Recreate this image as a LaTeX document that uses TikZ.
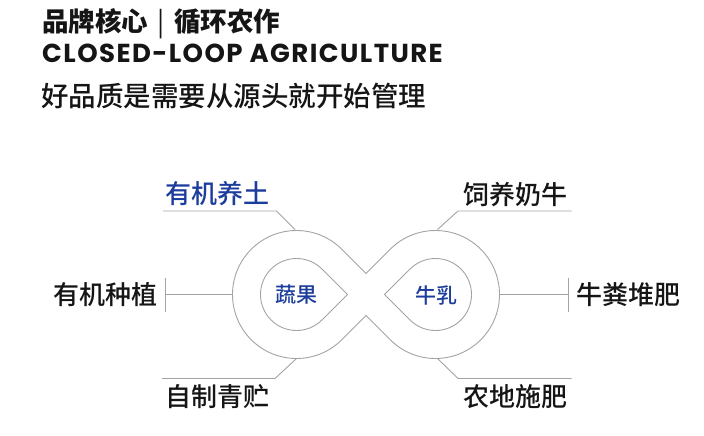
\documentclass[tikz,border=0pt]{standalone}
\usepackage{fontspec}
\setmainfont{Noto Sans CJK SC}
\newfontfamily\cjk{Noto Sans CJK SC}
\newfontfamily\cjkm{Noto Sans CJK SC Medium}
\newfontfamily\latn{Poppins}[LetterSpace=5.5]
\usetikzlibrary{calc}
\definecolor{lineg}{HTML}{A3A3A3}
\definecolor{brandblue}{HTML}{1C3D9B}
\definecolor{ink}{HTML}{151515}
\tikzset{
  leader/.style={draw=lineg, line width=0.9pt},
  loopline/.style={draw=lineg, line width=0.9pt, line join=miter},
  lbl/.style={inner sep=0pt, text=ink, font=\cjkm\fontsize{26}{26}\selectfont},
  bluelbl/.style={lbl, text=brandblue},
  innerlbl/.style={inner sep=0pt, text=brandblue, font=\cjkm\fontsize{21}{21}\selectfont},
}
\begin{document}
\begin{tikzpicture}[x=1pt,y=-1pt]
\useasboundingbox (0,0) rectangle (704,436);
% titles
\node[anchor=west, inner sep=0pt, text=ink, font=\cjk\bfseries\fontsize{26.5}{26.5}\selectfont] (title) at (42,24) {品牌核心\hspace{9pt}{\mdseries |}\hspace{10pt}循环农作};
\node[anchor=west, inner sep=0pt, text=ink, font=\latn\bfseries\fontsize{26}{26}\selectfont] (entitle) at (42,53) {CLOSED-LOOP AGRICULTURE};
\node[anchor=west, inner sep=0pt, text=ink, font=\cjkm\fontsize{27.5}{27.5}\selectfont] (sub) at (41,96) {好品质是需要从源头就开始管理};
% loop geometry
\coordinate (L) at (296.5,294.5);
\coordinate (R) at (435.5,294.5);
\coordinate (xt) at (366,273.5);
\coordinate (xb) at (366,315.5);
\draw[loopline] (xt) -- ($(L)+(-45:64)$) arc[start angle=-45, end angle=-315, radius=64]
  -- (xb) -- ($(R)+(135:64)$) arc[start angle=135, end angle=-135, radius=64] -- cycle;
\coordinate (Ltip) at (347.4,294.5);
\coordinate (Rtip) at (384.6,294.5);
\draw[loopline] (Ltip) -- ($(L)+(-45:36)$) arc[start angle=-45, end angle=-315, radius=36] -- cycle;
\draw[loopline] (Rtip) -- ($(R)+(-135:36)$) arc[start angle=-135, end angle=135, radius=36] -- cycle;
% inner labels
\node[innerlbl] (veg) at (296,295) {蔬果};
\node[innerlbl] (milk) at (436,295) {牛乳};
% outer labels
\node[bluelbl] (soil) at (217.5,194) {有机养土};
\node[lbl] (feed) at (515,194.5) {饲养奶牛};
\node[lbl] (plant) at (105,295) {有机种植};
\node[lbl] (manure) at (628,295) {牛粪堆肥};
\node[lbl] (silage) at (217.5,397) {自制青贮};
\node[lbl] (fert) at (515.5,397) {农地施肥};
% leader lines
\coordinate (ulc) at (295,229.5);
\coordinate (ulk) at (276.5,211);
\coordinate (ule) at (163,211);
\draw[leader] (ulc) -- (ulk) -- (ule);
\coordinate (urc) at (437.5,229.5);
\coordinate (urk) at (458,211);
\coordinate (ure) at (571.5,211);
\draw[leader] (urc) -- (urk) -- (ure);
\coordinate (llc) at (296.5,358.5);
\coordinate (llk) at (275,378.5);
\coordinate (lle) at (162,378.5);
\draw[leader] (llc) -- (llk) -- (lle);
\coordinate (lrc) at (437.5,358.5);
\coordinate (lrk) at (458,378.5);
\coordinate (lre) at (571.5,378.5);
\draw[leader] (lrc) -- (lrk) -- (lre);
\coordinate (mlc) at (232.5,294.5);
\coordinate (mlb) at (165,294.5);
\draw[leader] (mlc) -- (mlb);
\draw[leader] (165,278) -- (165,312);
\coordinate (mrc) at (499.5,294.5);
\coordinate (mrb) at (568.5,294.5);
\draw[leader] (mrc) -- (mrb);
\draw[leader] (568.5,278) -- (568.5,312);
\end{tikzpicture}
\end{document}
